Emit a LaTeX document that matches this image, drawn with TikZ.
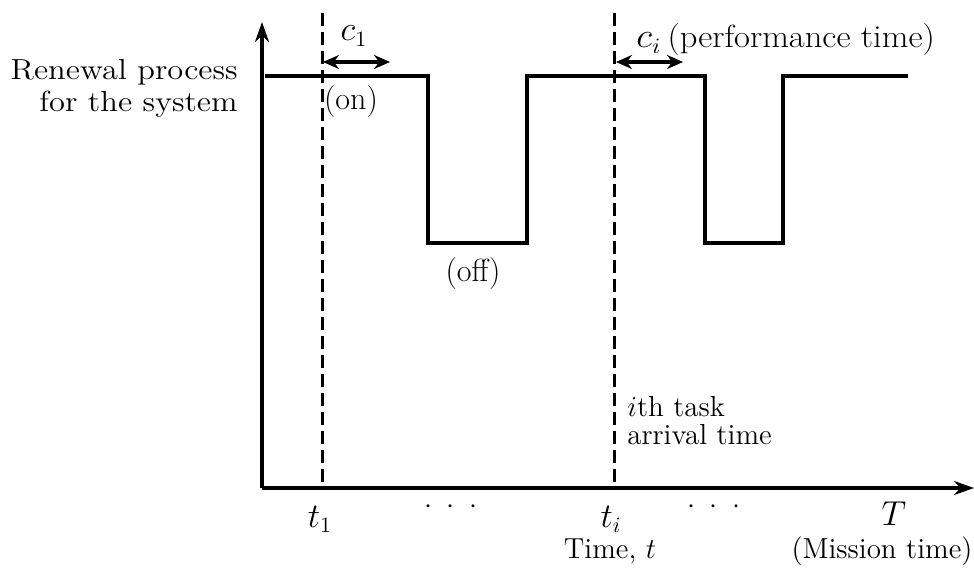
\documentclass[tikz,border=0pt]{standalone}
\usetikzlibrary{arrows.meta}
\begin{document}
\begin{tikzpicture}[x=0.5pt,y=-0.5pt,
  lbl/.style={font=\fontsize{14.5}{15}\selectfont, inner sep=1pt},
  big/.style={font=\fontsize{16}{18}\selectfont, inner sep=1pt},
  axisline/.style={line width=1.8pt, -{Stealth[length=10pt,width=7pt]}},
  sig/.style={line width=1.7pt, line join=miter},
  dashline/.style={line width=1.5pt, dash pattern=on 6.5pt off 3pt},
  spanarrow/.style={line width=1.6pt, {Stealth[length=8pt,width=7pt]}-{Stealth[length=8pt,width=7pt]}}]
\useasboundingbox (0,0) rectangle (974,573);
% axes
\coordinate (O) at (262,488);
\coordinate (Ytop) at (262,22);
\coordinate (Xend) at (974,488);
\draw[axisline] (O) -- (Ytop);
\draw[axisline] (O) -- (Xend);
% signal
\coordinate (s0) at (265,76);
\coordinate (s1) at (428,76);
\coordinate (s2) at (428,243);
\coordinate (s3) at (527,243);
\coordinate (s4) at (527,76);
\coordinate (s5) at (705,76);
\coordinate (s6) at (705,243);
\coordinate (s7) at (783,243);
\coordinate (s8) at (783,76);
\coordinate (s9) at (908,76);
\draw[sig] (s0) -- (s1) -- (s2) -- (s3) -- (s4) -- (s5) -- (s6) -- (s7) -- (s8) -- (s9);
% dashed task arrival lines
\coordinate (d1t) at (322,13);
\coordinate (d1b) at (322,488);
\coordinate (dit) at (614,13);
\coordinate (dib) at (614,488);
\draw[dashline] (d1t) -- (d1b);
\draw[dashline] (dit) -- (dib);
% performance time arrows
\coordinate (c1a) at (323,62);
\coordinate (c1b) at (390,62);
\coordinate (cia) at (616,62);
\coordinate (cib) at (683,62);
\draw[spanarrow] (c1a) -- (c1b);
\draw[spanarrow] (cia) -- (cib);
% labels
\node[lbl, align=right, anchor=east] (ren) at (240,88) {\scalebox{1.12}[1]{Renewal process}\\[1pt]\scalebox{1.12}[1]{for the system}};
\node[big] (c1) at (354,36) {$c_1$};
\node[big, anchor=west] (ci) at (634,40) {\scalebox{1.08}[1]{$c_i\,$(performance time)}};
\node[big] (on) at (351,102) {(on)};
\node[big] (off) at (473,274) {(off)};
\node[lbl, align=left, anchor=west] (task) at (625,421) {$i$th task\\[-1pt]arrival time};
\node[big] (t1) at (320,519) {$t_1$};
\node[lbl] (dots1) at (451,507) {$\cdot\;\cdot\;\cdot$};
\node[big] (ti) at (611,519) {$t_i$};
\node[lbl] (dots2) at (714,507) {$\cdot\;\cdot\;\cdot$};
\node[big] (T) at (894,514) {$T$};
\node[lbl] (time) at (610,551) {Time, $t$};
\node[lbl] (mis) at (882,551) {(Mission time)};
\end{tikzpicture}
\end{document}
